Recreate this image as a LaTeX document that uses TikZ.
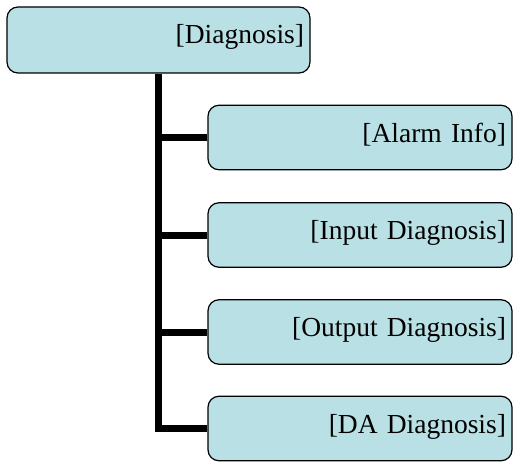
\documentclass[tikz,border=0pt]{standalone}
\usepackage{fontspec}
\setmainfont{Liberation Serif}
\definecolor{boxfill}{RGB}{185,224,228}
\begin{document}
\begin{tikzpicture}[x=1pt,y=1pt,
  box/.style={draw=black, line width=1.2pt, fill=boxfill, rounded corners=11pt,
    inner xsep=6pt, inner ysep=0pt, text width=#1, align=right,
    font=\fontsize{27.5}{33}\selectfont, text height=37pt},
  parentbox/.style={box=291pt, text depth=29pt},
  childbox/.style={box=292pt, text depth=27.5pt},
  conn/.style={line width=7pt, draw=black, line join=miter}]
\useasboundingbox (0,0) rectangle (513,464);
\node[parentbox] (root) at (158.5,424) {[Diagnosis]};
\node[childbox] (c1) at (360,326.5) {[Alarm Info]};
\node[childbox] (c2) at (360,229) {[Input Diagnosis]};
\node[childbox] (c3) at (360,132) {[Output Diagnosis]};
\node[childbox] (c4) at (360,35.5) {[DA Diagnosis]};
\draw[conn] (root.south) |- (c4.west);
\draw[conn] (c1.west) -- (c1.west -| root.south);
\draw[conn] (c2.west) -- (c2.west -| root.south);
\draw[conn] (c3.west) -- (c3.west -| root.south);
\end{tikzpicture}
\end{document}
